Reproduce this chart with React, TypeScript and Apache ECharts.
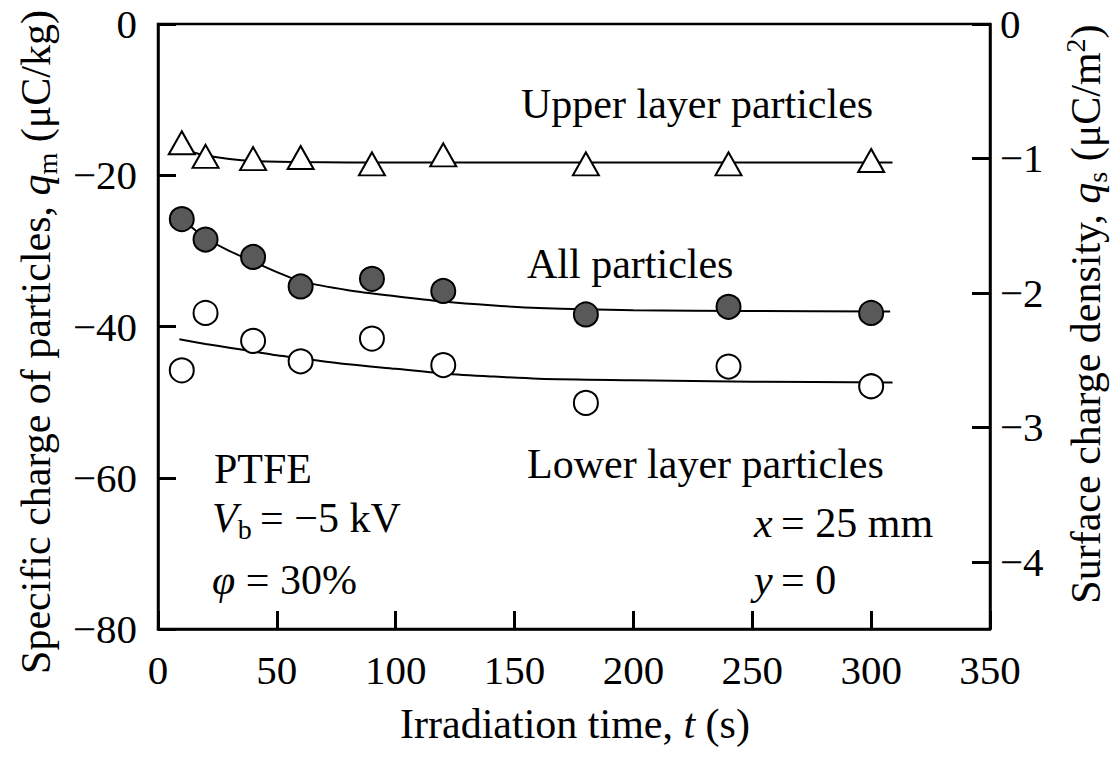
import React, { useEffect, useRef } from "react";
import * as echarts from "echarts";

// ---- data ----
const times = [10, 20, 40, 60, 90, 120, 180, 240, 300];
const upperVals = [-15.7, -17.5, -17.8, -17.65, -18.5, -17.3, -18.5, -18.5, -18.05];
const allVals = [-25.8, -28.5, -30.8, -34.7, -33.7, -35.3, -38.4, -37.4, -38.2];
const lowerVals = [-45.8, -38.2, -41.9, -44.6, -41.6, -45.1, -50.1, -45.3, -47.9];

// fitted curves
const upperFitT = [15, 20, 30, 40, 60, 80, 120, 200, 309];
const upperFitV = [-17.0, -17.4, -17.85, -18.1, -18.25, -18.3, -18.3, -18.3, -18.3];
const allFitT = [10, 20, 30, 40, 50, 60, 80, 100, 120, 140, 160, 200, 250, 308];
const allFitV = [-25.8, -28.3, -30.0, -31.4, -32.8, -34.0, -35.2, -36.0, -36.7, -37.2, -37.55, -37.85, -37.95, -38.0];
const lowerFitT = [9, 20, 30, 40, 50, 60, 80, 100, 120, 140, 160, 200, 250, 309];
const lowerFitV = [-41.7, -42.3, -42.8, -43.3, -43.8, -44.2, -45.0, -45.6, -46.2, -46.6, -46.9, -47.1, -47.3, -47.4];

const xTicks = { min: 0, max: 350, interval: 50 };
const leftTicks = { min: -80, max: 0, interval: 20 };
const rightTicks = { min: 0, max: 4.5, interval: 1 };

const FONT = "Liberation Serif";

const pairs = (xs: number[], ys: number[]) => xs.map((x, i) => [x, ys[i]]);
const minus = (v: number) => (v === 0 ? "0" : "\u2212" + Math.abs(v));

const rich = {
  n: { fontSize: 42, lineHeight: 50, fontFamily: FONT, color: "#000" },
  it: { fontSize: 42, lineHeight: 50, fontFamily: FONT, fontStyle: "italic", color: "#000" },
  sub: { fontSize: 28, lineHeight: 28, fontFamily: FONT, verticalAlign: "bottom", color: "#000" },
  sup: { fontSize: 28, lineHeight: 30, fontFamily: FONT, verticalAlign: "top", color: "#000" },
};

function label(text: string, x: number, y: number, align = "left", rotation = 0) {
  return {
    type: "text",
    x,
    y,
    rotation,
    silent: true,
    z: 10,
    style: {
      text,
      rich,
      fontSize: 42,
      fontFamily: FONT,
      fill: "#000",
      align,
      textAlign: align,
      verticalAlign: "middle",
      textVerticalAlign: "middle",
    },
  };
}

export default function App() {
  const ref = useRef<HTMLDivElement>(null);
  useEffect(() => {
    if (!ref.current) return;
    const chart = echarts.init(ref.current, undefined, { renderer: "svg" });
    const axisLine = { show: true, onZero: false, lineStyle: { color: "#000", width: 2.5 } };
    const axisTick = { show: true, inside: true, length: 18, lineStyle: { color: "#000", width: 3 } };
    const markerBase = { type: "scatter", z: 5, xAxisIndex: 0, yAxisIndex: 0 };
    const fitBase = {
      type: "line",
      smooth: 0.3,
      showSymbol: false,
      symbol: "none",
      z: 3,
      lineStyle: { color: "#000", width: 2 },
      xAxisIndex: 0,
      yAxisIndex: 0,
    };
    chart.setOption({
      animation: false,
      backgroundColor: "#fff",
      grid: {
        left: 158,
        right: 123,
        top: 24,
        bottom: 133,
        show: true,
        borderColor: "#000",
        borderWidth: 2.5,
        backgroundColor: "transparent",
      },
      xAxis: {
        type: "value",
        ...xTicks,
        axisLine,
        axisTick,
        splitLine: { show: false },
        axisLabel: { margin: 20, fontSize: 41, fontFamily: FONT, color: "#000" },
      },
      yAxis: [
        {
          type: "value",
          position: "left",
          ...leftTicks,
          axisLine,
          axisTick,
          splitLine: { show: false },
          axisLabel: { margin: 21, fontSize: 41, fontFamily: FONT, color: "#000", formatter: minus },
        },
        {
          type: "value",
          position: "right",
          inverse: true,
          ...rightTicks,
          axisLine,
          axisTick,
          splitLine: { show: false },
          axisLabel: {
            margin: 10,
            fontSize: 41,
            fontFamily: FONT,
            color: "#000",
            showMaxLabel: false,
            formatter: (v: number) => (Number.isInteger(v) ? minus(-v) : ""),
          },
        },
      ],
      series: [
        { ...fitBase, data: pairs(upperFitT, upperFitV) },
        { ...fitBase, data: pairs(allFitT, allFitV) },
        { ...fitBase, data: pairs(lowerFitT, lowerFitV) },
        {
          ...markerBase,
          symbol: "triangle",
          symbolSize: [26, 23],
          itemStyle: { color: "#fff", borderColor: "#000", borderWidth: 2, opacity: 1 },
          data: pairs(times, upperVals),
        },
        {
          ...markerBase,
          symbol: "circle",
          symbolSize: 24,
          itemStyle: { color: "#595959", borderColor: "#000", borderWidth: 2, opacity: 1 },
          data: pairs(times, allVals),
        },
        {
          ...markerBase,
          symbol: "circle",
          symbolSize: 24,
          itemStyle: { color: "#fff", borderColor: "#000", borderWidth: 2, opacity: 1 },
          data: pairs(times, lowerVals),
        },
      ],
      graphic: [
        label("{n|Upper layer particles}", 521, 104),
        label("{n|All particles}", 527, 264),
        label("{n|Lower layer particles}", 527, 464),
        label("{n|PTFE}", 214, 469),
        label("{it|V}{sub|b}{n|\u2009= \u22125 kV}", 212, 518),
        label("{it|\u03c6}{n| = 30%}", 212, 580),
        label("{it|x}{n|\u2009= 25 mm}", 754, 523),
        label("{it|y}{n|\u2009= 0}", 754, 580),
        label("{n|Irradiation time, }{it|t}{n| (s)}", 575, 724, "center"),
        label("{n|Specific charge of particles, }{it|q}{sub|m}{n| (\u03bcC/kg)}", 36, 342, "center", Math.PI / 2),
        label("{n|Surface charge density, }{it|q}{sub|s}{n| (\u03bcC/m}{sup|2}{n|)}", 1086, 314, "center", Math.PI / 2),
      ],
    });
    return () => chart.dispose();
  }, []);
  return (
    <div
      ref={ref}
      style={{ position: "fixed", left: 0, top: 0, width: 1113, height: 762, background: "#fff" }}
    />
  );
}
